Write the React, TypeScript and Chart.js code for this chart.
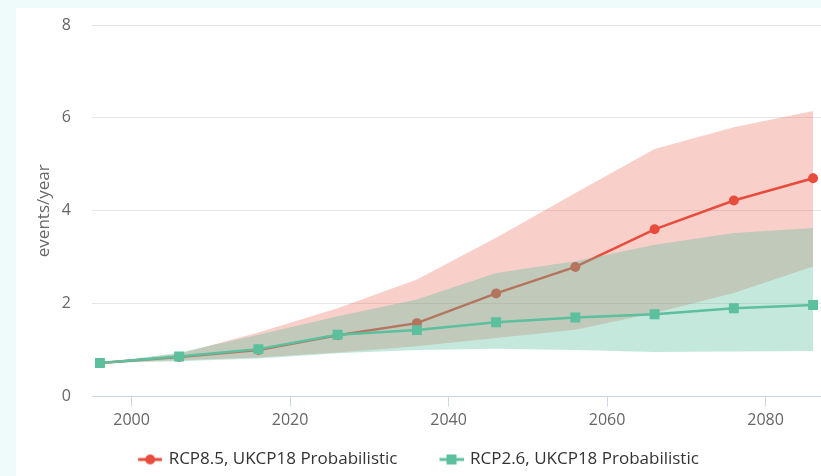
import React, { useEffect, useRef } from 'react';
import { Chart, registerables } from 'chart.js';

Chart.register(...registerables);

// ---- data ----
const years = [1996, 2006, 2016, 2026, 2036, 2046, 2056, 2066, 2076, 2086];
const rcp85Mean = [0.72, 0.85, 1.0, 1.32, 1.58, 2.22, 2.79, 3.6, 4.22, 4.7];
const rcp85Low = [0.72, 0.78, 0.84, 0.95, 1.08, 1.26, 1.44, 1.8, 2.23, 2.8];
const rcp85High = [0.72, 0.92, 1.38, 1.9, 2.52, 3.42, 4.38, 5.33, 5.8, 6.15];
const rcp26Mean = [0.72, 0.86, 1.02, 1.33, 1.43, 1.6, 1.7, 1.77, 1.9, 1.97];
const rcp26Low = [0.72, 0.76, 0.82, 0.93, 1.0, 1.03, 1.0, 0.96, 0.97, 0.98];
const rcp26High = [0.72, 0.94, 1.33, 1.73, 2.09, 2.66, 2.91, 3.27, 3.52, 3.63];
const xTickValues = [2000, 2020, 2040, 2060, 2080];
const yTickValues = [0, 2, 4, 6, 8];
const seriesNames = ['RCP8.5, UKCP18 Probabilistic', 'RCP2.6, UKCP18 Probabilistic'];
const yAxisTitle = 'events/year';

const RED = '#e74c3c';
const GREEN = '#5cbf9d';
const RED_BAND = 'rgba(231,76,60,0.27)';
const GREEN_BAND = 'rgba(92,191,157,0.36)';
const FONT = "'Open Sans', sans-serif";

const pts = (vals: number[]) => years.map((x, i) => ({ x, y: vals[i] }));

function legendSymbol(color: string, shape: 'circle' | 'rect') {
  const c = document.createElement('canvas');
  c.width = 58;
  c.height = 12;
  const g = c.getContext('2d')!;
  g.strokeStyle = color;
  g.lineWidth = 3;
  g.beginPath();
  g.moveTo(34, 6);
  g.lineTo(58, 6);
  g.stroke();
  g.fillStyle = color;
  if (shape === 'circle') {
    g.beginPath();
    g.arc(46, 6, 5, 0, Math.PI * 2);
    g.fill();
  } else {
    g.fillRect(41, 1, 10, 10);
  }
  return c;
}

export default function App() {
  const ref = useRef<HTMLCanvasElement>(null);

  useEffect(() => {
    const symbols = [legendSymbol(RED, 'circle'), legendSymbol(GREEN, 'rect')];
    const chart = new Chart(ref.current!, {
      type: 'line',
      data: {
        datasets: [
          { label: 'rcp85High', data: pts(rcp85High), fill: 1, backgroundColor: RED_BAND, borderColor: 'transparent', borderWidth: 0, pointRadius: 0, order: 6 },
          { label: 'rcp85Low', data: pts(rcp85Low), fill: false, borderColor: 'transparent', borderWidth: 0, pointRadius: 0, order: 5 },
          { label: seriesNames[0], data: pts(rcp85Mean), fill: false, borderColor: RED, backgroundColor: RED, borderWidth: 2.5, pointRadius: 5, pointBorderWidth: 0, pointStyle: 'circle', order: 4 },
          { label: 'rcp26High', data: pts(rcp26High), fill: 4, backgroundColor: GREEN_BAND, borderColor: 'transparent', borderWidth: 0, pointRadius: 0, order: 3 },
          { label: 'rcp26Low', data: pts(rcp26Low), fill: false, borderColor: 'transparent', borderWidth: 0, pointRadius: 0, order: 2 },
          { label: seriesNames[1], data: pts(rcp26Mean), fill: false, borderColor: GREEN, backgroundColor: GREEN, borderWidth: 2.5, pointRadius: 7, pointBorderWidth: 0, pointStyle: 'rect', order: 1 },
        ],
      },
      options: {
        responsive: false,
        animation: false,
        events: [],
        layout: { autoPadding: false, padding: { top: 25, bottom: 2, left: 0, right: 0 } },
        scales: {
          x: {
            type: 'linear',
            min: 1995,
            max: 2087,
            afterBuildTicks: (s: any) => {
              s.ticks = xTickValues.map((v) => ({ value: v }));
            },
            afterFit: (s: any) => {
              s.height = 44.5;
              s.paddingLeft = 0;
              s.paddingRight = 0;
            },
            ticks: { color: '#666666', font: { family: FONT, size: 16 }, padding: 4, callback: (v: any) => String(v), maxRotation: 0 },
            grid: { drawOnChartArea: false, color: '#ccd6eb', tickLength: 10 },
            border: { color: '#ccd6eb', width: 1 },
          },
          y: {
            min: 0,
            max: 8,
            afterBuildTicks: (s: any) => {
              s.ticks = yTickValues.map((v) => ({ value: v }));
            },
            afterFit: (s: any) => {
              s.width = 108;
              s.paddingTop = 10;
              s.paddingBottom = 10;
            },
            ticks: { color: '#666666', font: { family: FONT, size: 16 }, padding: 21, callback: (v: any) => String(v) },
            grid: { color: (c: any) => (c.tick && c.tick.value === 0 ? 'rgba(0,0,0,0)' : '#e6e6e6'), drawTicks: false },
            border: { display: false },
            title: { display: true, text: yAxisTitle, color: '#666666', font: { family: FONT, size: 17 }, padding: { top: 49.8, bottom: 4 } },
          },
        },
        plugins: {
          tooltip: { enabled: false },
          legend: {
            position: 'bottom',
            labels: {
              usePointStyle: true,
              pointStyleWidth: 54,
              boxHeight: 12,
              padding: 10,
              color: '#333333',
              font: { family: FONT, size: 17 },
              generateLabels: () =>
                seriesNames.map((name, i) => ({
                  text: name,
                  fillStyle: i === 0 ? RED : GREEN,
                  strokeStyle: i === 0 ? RED : GREEN,
                  lineWidth: 0,
                  pointStyle: symbols[i] as any,
                  hidden: false,
                  datasetIndex: i === 0 ? 2 : 5,
                  fontColor: '#333333',
                })),
            },
          },
        },
      } as any,
    });
    return () => chart.destroy();
  }, []);

  return (
    <div style={{ position: 'fixed', left: 0, top: 0, width: 821, height: 476, overflow: 'hidden', background: '#effbfb' }}>
      <div style={{ position: 'absolute', left: 16, top: 8, width: 805, height: 468, background: '#ffffff' }} />
      <div style={{ position: 'absolute', left: -16, top: 0, width: 837, height: 480 }}>
        <canvas ref={ref} width={837} height={480} style={{ display: 'block' }} />
      </div>
    </div>
  );
}
